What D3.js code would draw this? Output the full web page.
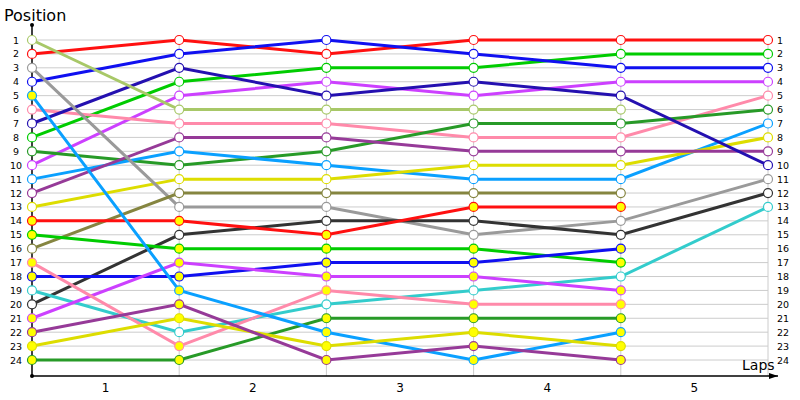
<!DOCTYPE html>
<html>
<head>
<meta charset="utf-8">
<script src="https://cdn.jsdelivr.net/npm/d3@7"></script>
<style>
  body { margin: 0; background: #fff; }
  svg text { font-family: "DejaVu Sans", Verdana, sans-serif; }
</style>
</head>
<body>
<svg id="chart" width="800" height="400"></svg>
<script>
// lap index 0 = start grid, then laps 1..5
var laps = [0, 1, 2, 3, 4, 5];
var lapLabels = ["1", "2", "3", "4", "5"];
var positionTicks = d3.range(1, 25);

// running position of every car, one array per car
var positions = [
  [2, 1, 2, 1, 1, 1],
  [8, 4, 3, 3, 2, 2],
  [4, 2, 1, 2, 3, 3],
  [10, 5, 4, 5, 4, 4],
  [6, 7, 7, 8, 8, 5],
  [9, 10, 9, 7, 7, 6],
  [11, 9, 10, 11, 11, 7],
  [13, 11, 11, 10, 10, 8],
  [12, 8, 8, 9, 9, 9],
  [7, 3, 5, 4, 5, 10],
  [3, 13, 13, 15, 14, 11],
  [20, 15, 14, 14, 15, 12],
  [19, 22, 20, 19, 18, 13],
  [1, 6, 6, 6, 6],
  [16, 12, 12, 12, 12],
  [14, 14, 15, 13, 13],
  [15, 16, 16, 16, 17],
  [18, 18, 17, 17, 16],
  [21, 17, 18, 18, 19],
  [17, 23, 19, 20, 20],
  [24, 24, 21, 21, 21],
  [5, 19, 22, 24, 22],
  [23, 21, 23, 22, 23],
  [22, 20, 24, 23, 24]
];
// cars flagged with a yellow marker
var flagged = [false, false, false, false, false, false, false, false, false, false,
  false, false, false, false, false, true, true, true, true, true, true, true, true, true];

// styles
var lineColors = ["#ff1010", "#00cc00", "#1010f0", "#cc40ff", "#ff8aaa", "#279a27",
  "#0aa0ff", "#dddd00", "#963a98", "#2410b0", "#9a9a9a", "#333333", "#33cccc",
  "#a8c868", "#858540", "#ff1010", "#00cc00", "#1010f0", "#cc40ff", "#ff8aaa",
  "#279a27", "#0aa0ff", "#dddd00", "#963a98"];

var svg = d3.select("#chart");

var x = d3.scaleLinear().domain([0, 5]).range([32, 768]);
var y = d3.scaleLinear().domain([1, 24]).range([40, 360]);
var axisY = 376;

// grid
svg.append("g").selectAll("line")
    .data(positionTicks)
  .enter().append("line")
    .attr("x1", x(0)).attr("x2", x(5))
    .attr("y1", d => y(d)).attr("y2", d => y(d))
    .attr("stroke", "#cccccc").attr("stroke-width", 1);

svg.append("g").selectAll("line")
    .data(laps.slice(1))
  .enter().append("line")
    .attr("x1", d => x(d)).attr("x2", d => x(d))
    .attr("y1", y(1)).attr("y2", axisY)
    .attr("stroke", "#cccccc").attr("stroke-width", 1);

// axes
svg.append("line")
    .attr("x1", x(0)).attr("x2", x(0))
    .attr("y1", 25).attr("y2", axisY)
    .attr("stroke", "#000").attr("stroke-width", 1.5);
svg.append("circle").attr("cx", x(0)).attr("cy", 25).attr("r", 2).attr("fill", "#000");
svg.append("circle").attr("cx", x(0)).attr("cy", axisY).attr("r", 2).attr("fill", "#000");

svg.append("line")
    .attr("x1", x(0)).attr("x2", 778)
    .attr("y1", axisY).attr("y2", axisY)
    .attr("stroke", "#000").attr("stroke-width", 1.5);
svg.append("path")
    .attr("d", "M778," + axisY + " l-9,-3 l0,6 z")
    .attr("fill", "#000");

svg.append("text")
    .attr("x", 4).attr("y", 21)
    .attr("font-size", "16px")
    .text("Position");
svg.append("text")
    .attr("x", 742).attr("y", 370)
    .attr("font-size", "14px")
    .text("Laps");

svg.append("g").selectAll("text")
    .data(lapLabels)
  .enter().append("text")
    .attr("x", (d, i) => x(i + 0.5))
    .attr("y", 392)
    .attr("font-size", "12px")
    .style("text-anchor", "middle")
    .text(d => d);

// position labels both sides
svg.append("g").selectAll("text")
    .data(positionTicks)
  .enter().append("text")
    .attr("x", 16)
    .attr("y", d => y(d) + 3.5)
    .attr("font-size", "9.5px")
    .style("text-anchor", "middle")
    .text(d => d);

svg.append("g").selectAll("text")
    .data(positionTicks)
  .enter().append("text")
    .attr("x", 777)
    .attr("y", d => y(d) + 3.5)
    .attr("font-size", "9.5px")
    .text(d => d);

// lines
var line = d3.line()
    .x((d, i) => x(laps[i]))
    .y(d => y(d));

svg.append("g").selectAll("path")
    .data(positions)
  .enter().append("path")
    .attr("d", line)
    .attr("fill", "none")
    .attr("stroke", (d, i) => lineColors[i])
    .attr("stroke-width", 3);

// markers
positions.forEach((car, i) => {
  svg.append("g").selectAll("circle")
      .data(car)
    .enter().append("circle")
      .attr("cx", (d, j) => x(laps[j]))
      .attr("cy", d => y(d))
      .attr("r", 4.5)
      .attr("fill", (d, j) => flagged[i] && j < 5 ? "#ffff00" : "#fff")
      .attr("stroke", lineColors[i])
      .attr("stroke-width", 1.2);
});
</script>
</body>
</html>
